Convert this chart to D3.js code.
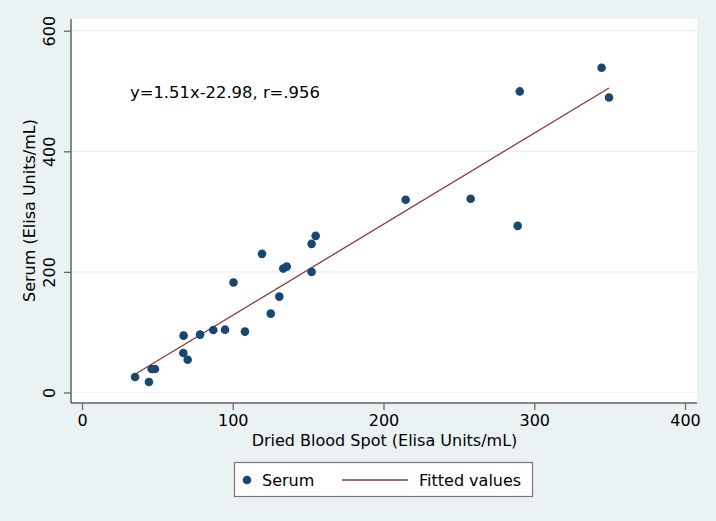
<!DOCTYPE html>
<html>
<head>
<meta charset="utf-8">
<script src="https://cdn.jsdelivr.net/npm/d3@7"></script>
<style>
  html, body { margin: 0; padding: 0; background: #eaf2f3; }
  svg { display: block; }
  text { font-family: "DejaVu Sans", "Liberation Sans", sans-serif; fill: #000; }
</style>
</head>
<body>
<svg id="chart" width="716" height="521"></svg>
<script>
// ---- data ----
const dbsValues = [35.2, 44.4, 46.2, 48.4, 67.2, 67.4, 70.1, 78.3, 87.1, 94.9, 108.1, 100.5, 119.4,
                   125.2, 130.9, 133.5, 135.8, 152.3, 152.3, 155.0, 214.7, 257.8, 289.0, 290.4, 344.7, 349.6];
const serumValues = [25.7, 17.4, 39.0, 39.0, 65.5, 94.3, 54.4, 96.0, 103.7, 104.2, 101.0, 182.3, 229.9,
                     130.8, 159.0, 205.5, 208.8, 200.0, 246.5, 259.8, 319.6, 321.3, 276.3, 499.3, 538.6, 489.3];
const fittedX = [35.2, 349.6];
const fittedY = [30.2, 504.9];
const xTicks = [0, 100, 200, 300, 400];
const yTicks = [0, 200, 400, 600];
const xTitle = "Dried Blood Spot (Elisa Units/mL)";
const yTitle = "Serum (Elisa Units/mL)";
const annotation = "y=1.51x-22.98, r=.956";
const legendLabels = ["Serum", "Fitted values"];

const colors = { bg: "#eaf2f3", dot: "#1a476f", line: "#90353b", grid: "#eaf2f3", axis: "#666666" };

const svg = d3.select("#chart");
const plot = { left: 72, right: 697, top: 19, bottom: 402 };

const x = d3.scaleLinear().domain([0, 400]).range([82, 685]);
const y = d3.scaleLinear().domain([0, 600]).range([392.5, 30.7]);

svg.append("rect").attr("width", 716).attr("height", 521).attr("fill", colors.bg);
svg.append("rect").attr("x", plot.left).attr("y", plot.top)
  .attr("width", plot.right - plot.left).attr("height", plot.bottom - plot.top).attr("fill", "#fff");

// gridlines
svg.append("g").selectAll("line").data(yTicks).join("line")
  .attr("x1", plot.left).attr("x2", plot.right)
  .attr("y1", d => y(d)).attr("y2", d => y(d))
  .attr("stroke", colors.grid).attr("stroke-width", 1.2);

// axes
const xAxis = svg.append("g").attr("transform", `translate(0,${plot.bottom + 1})`)
  .call(d3.axisBottom(x).tickValues(xTicks).tickSize(7).tickPadding(5).tickFormat(d3.format("d")));
xAxis.select(".domain").attr("d", `M${plot.left - 1},0H${plot.right}`).attr("stroke", colors.axis).attr("stroke-width", 1.5);
xAxis.selectAll(".tick line").attr("stroke", colors.axis).attr("stroke-width", 1.3);
xAxis.selectAll(".tick text").attr("font-size", 16).attr("font-family", "DejaVu Sans").attr("fill", "#000");

const yAxis = svg.append("g").attr("transform", `translate(${plot.left - 1},0)`)
  .call(d3.axisLeft(y).tickValues(yTicks).tickSize(7).tickPadding(0).tickFormat(d3.format("d")));
yAxis.select(".domain").attr("d", `M0,${plot.top}V${plot.bottom + 1}`).attr("stroke", colors.axis).attr("stroke-width", 1.5);
yAxis.selectAll(".tick line").attr("stroke", colors.axis).attr("stroke-width", 1.3);
yAxis.selectAll(".tick text")
  .attr("font-size", 16).attr("font-family", "DejaVu Sans").attr("fill", "#000")
  .attr("x", 0).attr("dy", null)
  .attr("text-anchor", "middle")
  .attr("transform", "translate(-16,0) rotate(-90)");

// axis titles
svg.append("text").attr("x", (plot.left + plot.right) / 2).attr("y", 446)
  .attr("text-anchor", "middle").attr("font-size", 16).text(xTitle);
svg.append("text").attr("transform", `translate(35,${(plot.top + plot.bottom) / 2}) rotate(-90)`)
  .attr("text-anchor", "middle").attr("font-size", 16).text(yTitle);

// annotation
svg.append("text").attr("x", 130).attr("y", 98).attr("font-size", 16.4).text(annotation);

// fitted line
const lineData = fittedX.map((d, i) => [d, fittedY[i]]);
svg.append("path").datum(lineData)
  .attr("d", d3.line().x(d => x(d[0])).y(d => y(d[1])))
  .attr("fill", "none").attr("stroke", colors.line).attr("stroke-width", 1.3);

// points
svg.append("g").selectAll("circle").data(dbsValues.map((d, i) => [d, serumValues[i]])).join("circle")
  .attr("cx", d => x(d[0])).attr("cy", d => y(d[1])).attr("r", 4.3).attr("fill", colors.dot);

// legend
const lg = svg.append("g");
lg.append("rect").attr("x", 234.5).attr("y", 462.5).attr("width", 298).attr("height", 34)
  .attr("fill", "#fff").attr("stroke", "#777").attr("stroke-width", 1.2);
lg.append("circle").attr("cx", 247).attr("cy", 480).attr("r", 4.3).attr("fill", colors.dot);
lg.append("text").attr("x", 262).attr("y", 486).attr("font-size", 16).text(legendLabels[0]);
lg.append("line").attr("x1", 342).attr("x2", 408).attr("y1", 480).attr("y2", 480)
  .attr("stroke", colors.line).attr("stroke-width", 1.3);
lg.append("text").attr("x", 419).attr("y", 486).attr("font-size", 16).text(legendLabels[1]);
</script>
</body>
</html>
